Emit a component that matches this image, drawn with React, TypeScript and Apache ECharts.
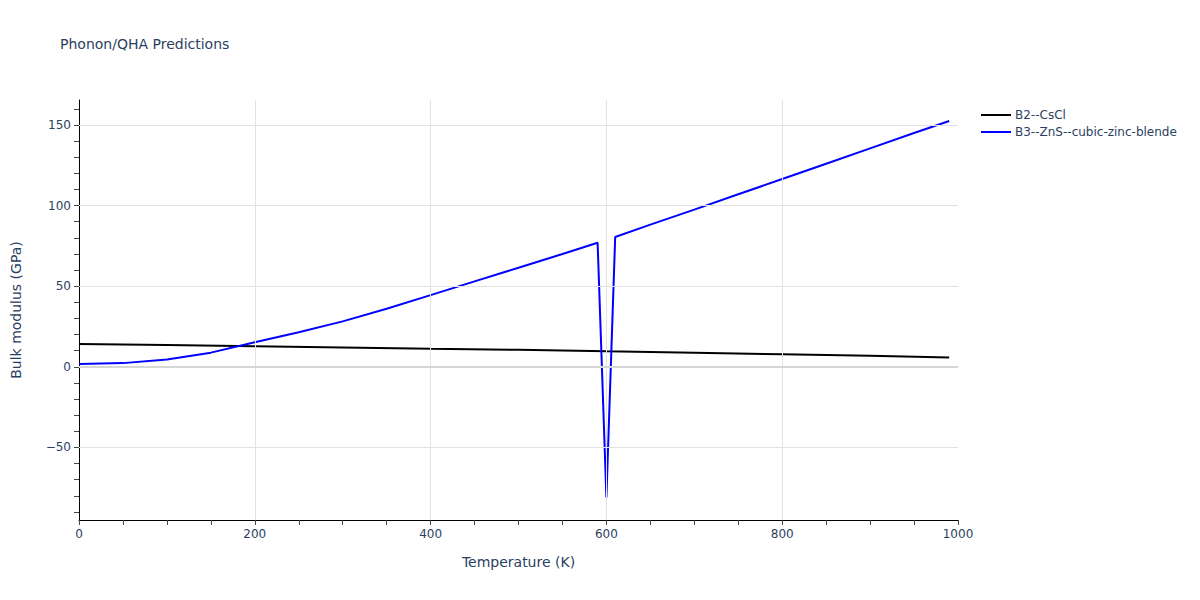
import React, { useEffect, useRef } from "react";
import * as echarts from "echarts";

const b2Temps = [0, 100, 200, 300, 400, 500, 600, 700, 800, 900, 990];
const b2Values = [14.2, 13.6, 12.8, 12.0, 11.2, 10.6, 9.6, 8.8, 7.8, 6.8, 5.8];

const b3Temps = [0, 50, 100, 150, 200, 250, 300, 350, 400, 450, 500, 550, 590, 600, 610, 650, 700, 750, 800, 850, 900, 950, 990];
const b3Values = [1.8, 2.3, 4.6, 8.8, 15.2, 21.5, 28.2, 36, 44.5, 53, 61.5, 70, 77, -81, 80.5, 88.2, 97.5, 107, 116.5, 126, 135.5, 145, 152.5];

const yLabelValues = [-50, 0, 50, 100, 150];
const yMinorTicks = [-90, -80, -70, -60, -50, -40, -30, -20, -10, 0, 10, 20, 30, 40, 50, 60, 70, 80, 90, 100, 110, 120, 130, 140, 150, 160];
const yGridValues = [-50, 50, 100, 150];
const xLabelValues = [0, 200, 400, 600, 800, 1000];
const xGridValues = [200, 400, 600, 800];
const xMinorTicks = [0, 50, 100, 150, 200, 250, 300, 350, 400, 450, 500, 550, 600, 650, 700, 750, 800, 850, 900, 950, 1000];

const FONT = "'DejaVu Sans', Verdana, sans-serif";
const TXT = "#2a3f5f";
const GRID = "#e2e2e2";

export default function App() {
  const ref = useRef<HTMLDivElement>(null);
  useEffect(() => {
    if (!ref.current) return;
    const chart = echarts.init(ref.current, null, { renderer: "svg" });
    chart.setOption({
      animation: false,
      backgroundColor: "#fff",
      textStyle: { fontFamily: FONT },
      title: {
        text: "Phonon/QHA Predictions",
        left: 60,
        top: 37,
        padding: 0,
        textStyle: { fontFamily: FONT, fontSize: 14, fontWeight: "normal", color: TXT },
      },
      legend: {
        orient: "vertical",
        left: 976,
        top: 104,
        itemWidth: 30,
        itemHeight: 2,
        itemGap: 5,
        textStyle: { fontFamily: FONT, fontSize: 12, color: TXT, padding: [0, 0, 0, -1] },
        data: [
          { name: "B2--CsCl", icon: "rect" },
          { name: "B3--ZnS--cubic-zinc-blende", icon: "rect" },
        ],
      },
      grid: { left: 79, right: 242, top: 100, bottom: 80, containLabel: false },
      xAxis: {
        type: "value",
        min: 0,
        max: 1000,
        name: "Temperature (K)",
        nameLocation: "middle",
        nameGap: 35,
        nameTextStyle: { fontFamily: FONT, fontSize: 14, color: TXT },
        axisLine: { show: true, onZero: false, lineStyle: { color: "#000", width: 1 } },
        axisTick: { show: true, inside: false, length: 5, lineStyle: { color: "#444" }, customValues: xMinorTicks },
        axisLabel: { fontFamily: FONT, fontSize: 12, color: TXT, margin: 8, customValues: xLabelValues,
          formatter: (v: number) => String(v) },
        splitLine: { show: false },
      },
      yAxis: {
        type: "value",
        min: -95,
        max: 165.5,
        name: "Bulk modulus (GPa)",
        nameLocation: "middle",
        nameGap: 56,
        nameTextStyle: { fontFamily: FONT, fontSize: 14, color: TXT },
        axisLine: { show: true, onZero: false, lineStyle: { color: "#000", width: 1 } },
        axisTick: { show: true, inside: false, length: 5, lineStyle: { color: "#444" }, customValues: yMinorTicks },
        axisLabel: { fontFamily: FONT, fontSize: 12, color: TXT, margin: 8, customValues: yLabelValues,
          formatter: (v: number) => (v < 0 ? "\u2212" + Math.abs(v) : String(v)) },
        splitLine: { show: false },
      },
      series: [
        {
          name: "grid",
          type: "line",
          data: [],
          silent: true,
          markLine: {
            silent: true,
            symbol: "none",
            label: { show: false },
            data: [
              ...yGridValues.map((v) => ({ yAxis: v, lineStyle: { color: GRID, width: 1, type: "solid" } })),
              ...xGridValues.map((v) => ({ xAxis: v, lineStyle: { color: GRID, width: 1, type: "solid" } })),
              { yAxis: 0, lineStyle: { color: "#d6d6d6", width: 2, type: "solid" } },
            ],
          },
          z: 1,
        },
        {
          name: "B2--CsCl",
          type: "line",
          data: b2Temps.map((t, i) => [t, b2Values[i]]),
          showSymbol: false,
          lineStyle: { color: "#000000", width: 2 },
          itemStyle: { color: "#000000" },
          z: 3,
        },
        {
          name: "B3--ZnS--cubic-zinc-blende",
          type: "line",
          data: b3Temps.map((t, i) => [t, b3Values[i]]),
          showSymbol: false,
          lineStyle: { color: "#0000ff", width: 2 },
          itemStyle: { color: "#0000ff" },
          z: 4,
        },
      ],
    });
    return () => chart.dispose();
  }, []);
  return <div ref={ref} style={{ width: 1200, height: 600, margin: -8 }} />;
}
